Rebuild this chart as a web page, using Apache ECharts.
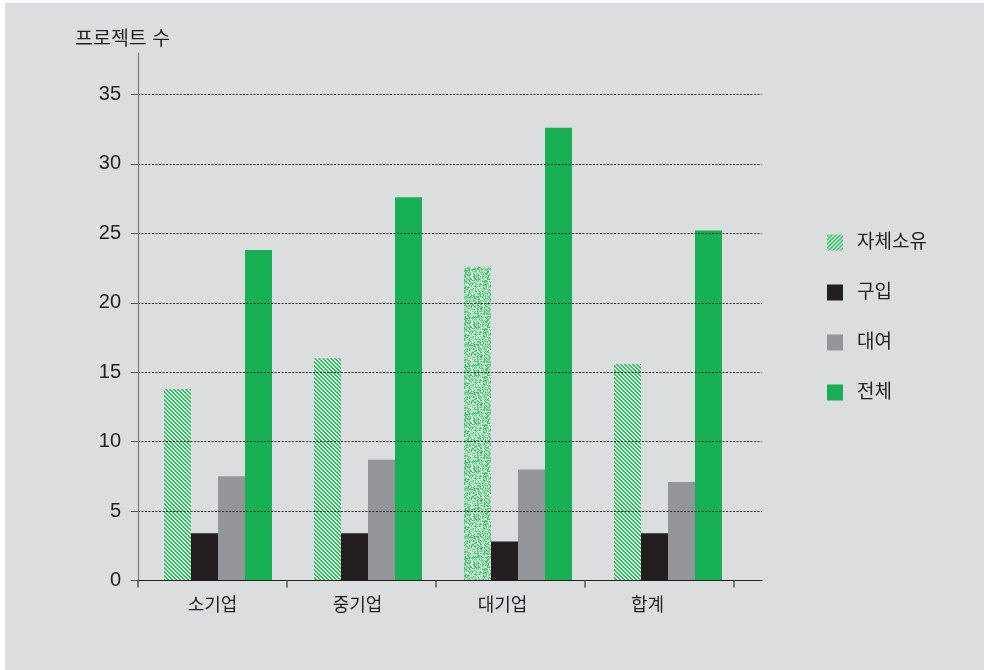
<!DOCTYPE html>
<html>
<head>
<meta charset="utf-8">
<script src="https://cdn.jsdelivr.net/npm/echarts@6/dist/echarts.min.js"></script>
<style>
  html, body { margin: 0; padding: 0; background: #ffffff; }
  #panel { position: absolute; left: 5px; top: 3px; width: 979px; height: 667px; background: #dcddde; }
  #chart { position: absolute; left: 0; top: 0; width: 984px; height: 670px; }
</style>
</head>
<body>
<div id="panel"></div>
<div id="chart"></div>
<script>
// Number of projects by company size
const categories = ['소기업', '중기업', '대기업', '합계'];
const seriesNames = ['자체소유', '구입', '대여', '전체'];
const ownedValues = [13.8, 16.0, 22.6, 15.6];
const purchasedValues = [3.4, 3.4, 2.8, 3.4];
const leasedValues = [7.5, 8.7, 8.0, 7.1];
const totalValues = [23.8, 27.6, 32.6, 25.2];
const yMin = 0;
const yMax = 35;
const yStep = 5;
const yTitle = '프로젝트 수';

const FONT = "'Liberation Sans', 'Noto Sans CJK KR', sans-serif";
const TEXT = '#231f20';
const GREEN = '#17b055';
const LIGHT = '#d3ecdb';
const STRIPE = '#37b866';

// Diagonal hatch tile; dir = 1 runs "\\", dir = -1 runs "//"
function hatchTile(dir) {
  const c = document.createElement('canvas');
  c.width = 4; c.height = 4;
  const g = c.getContext('2d');
  for (let y = 0; y < 4; y++) {
    for (let x = 0; x < 4; x++) {
      const k = ((dir > 0 ? x - y : x + y) % 4 + 4) % 4;
      g.fillStyle = k < 2 ? STRIPE : LIGHT;
      g.fillRect(x, y, 1, 1);
    }
  }
  return { image: c, repeat: 'repeat' };
}

// Grainy texture tile (deterministic hash noise over a faint hatch)
function grainTile() {
  const n = 48;
  const c = document.createElement('canvas');
  c.width = n; c.height = n;
  const g = c.getContext('2d');
  function hash(x, y) {
    let h = Math.imul(x, 374761393) + Math.imul(y, 668265263);
    h = Math.imul(h ^ (h >>> 13), 1274126177);
    return ((h ^ (h >>> 16)) >>> 0) / 4294967296;
  }
  const tones = ['#3fba6b', '#7ccf97', '#b4e2c2', '#dff1e5'];
  for (let y = 0; y < n; y++) {
    for (let x = 0; x < n; x++) {
      const k = ((x - y) % 4 + 4) % 4;
      const r = hash(x + 17, y + 91) * 0.85 + (k < 2 ? 0 : 0.15);
      g.fillStyle = tones[Math.min(3, Math.floor(r * 4))];
      g.fillRect(x, y, 1, 1);
    }
  }
  return { image: c, repeat: 'repeat' };
}

const hatchBars = hatchTile(1);
const hatchLegend = hatchTile(-1);
const grain = grainTile();

const chart = echarts.init(document.getElementById('chart'), null, { renderer: 'canvas' });

const gridBottom = 89.5;
const option = {
  backgroundColor: 'transparent',
  animation: false,
  textStyle: { fontFamily: FONT, color: TEXT },
  title: {
    text: yTitle,
    left: 70, top: 25,
    textStyle: { fontFamily: FONT, fontSize: 19.5, fontWeight: 'normal', color: TEXT }
  },
  legend: {
    orient: 'vertical',
    left: 827, top: 233,
    padding: 0,
    itemWidth: 16, itemHeight: 16, itemGap: 31,
    icon: 'rect',
    formatter: name => '{g|}' + name,
    textStyle: {
      fontFamily: FONT, fontSize: 19, color: TEXT, lineHeight: 16,
      rich: { g: { width: 9 } }
    },
    data: [
      { name: seriesNames[0], itemStyle: { color: hatchLegend } },
      seriesNames[1], seriesNames[2], seriesNames[3]
    ]
  },
  grid: [
    // frame: axis lines
    { left: 138, right: 222, top: 53, bottom: gridBottom },
    // value scale and dotted guides
    { left: 138, right: 222, top: 94.5, bottom: gridBottom },
    // bars
    { left: 143, width: 600, top: 94.5, bottom: gridBottom },
    // category boundary ticks
    { left: 138, width: 596, top: 94.5, bottom: gridBottom },
    // category labels
    { left: 140, width: 580, top: 94.5, bottom: gridBottom }
  ],
  xAxis: [
    { gridIndex: 0, type: 'category', data: [''], z: 6,
      axisLine: { show: true, lineStyle: { color: TEXT, width: 1.2 } },
      axisTick: { show: false }, axisLabel: { show: false }, splitLine: { show: false } },
    { gridIndex: 1, type: 'category', data: categories, show: false },
    { gridIndex: 2, type: 'category', data: categories, show: false },
    { gridIndex: 3, type: 'category', data: categories, z: 6,
      axisLine: { show: false },
      axisTick: { show: true, length: 7, lineStyle: { color: '#555555', width: 1.5 } },
      axisLabel: { show: false } },
    { gridIndex: 4, type: 'category', data: categories,
      axisLine: { show: false }, axisTick: { show: false },
      axisLabel: { show: true, margin: 17, fontFamily: FONT, fontSize: 18, color: TEXT } }
  ],
  yAxis: [
    { gridIndex: 0, type: 'value', min: 0, max: 1, z: 6,
      axisLine: { show: true, lineStyle: { color: '#7a7c7f', width: 1.2 } },
      axisTick: { show: false }, axisLabel: { show: false }, splitLine: { show: false } },
    { gridIndex: 1, type: 'value', min: yMin, max: yMax, interval: yStep, z: 5,
      axisLine: { show: false },
      axisTick: { show: true, length: 7, lineStyle: { color: '#555555' } },
      axisLabel: { show: true, margin: 17, fontFamily: FONT, fontSize: 20, color: TEXT },
      splitLine: { show: true, lineStyle: { color: '#2b2b2b', type: [2, 1.5], width: 1 } } },
    { gridIndex: 2, type: 'value', min: yMin, max: yMax, show: false },
    { gridIndex: 3, type: 'value', min: yMin, max: yMax, show: false },
    { gridIndex: 4, type: 'value', min: yMin, max: yMax, show: false }
  ],
  series: [
    {
      name: seriesNames[0], type: 'bar', xAxisIndex: 2, yAxisIndex: 2,
      barWidth: 27, barGap: '0%',
      itemStyle: { color: hatchBars },
      data: ownedValues.map((v, i) => i === 2 ? { value: v, itemStyle: { color: grain } } : v)
    },
    {
      name: seriesNames[1], type: 'bar', xAxisIndex: 2, yAxisIndex: 2,
      barWidth: 27, barGap: '0%',
      itemStyle: { color: '#231f20' },
      data: purchasedValues
    },
    {
      name: seriesNames[2], type: 'bar', xAxisIndex: 2, yAxisIndex: 2,
      barWidth: 27, barGap: '0%',
      itemStyle: { color: '#939598' },
      data: leasedValues
    },
    {
      name: seriesNames[3], type: 'bar', xAxisIndex: 2, yAxisIndex: 2,
      barWidth: 27, barGap: '0%',
      itemStyle: { color: GREEN },
      data: totalValues
    }
  ]
};
chart.setOption(option);
</script>
</body>
</html>
